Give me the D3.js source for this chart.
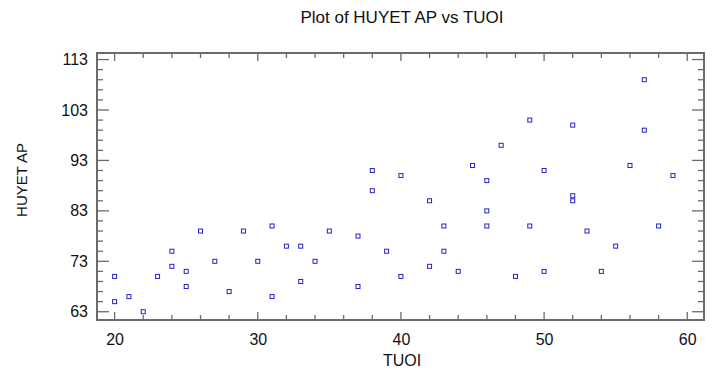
<!DOCTYPE html>
<html><head><meta charset="utf-8">
<script src="https://cdn.jsdelivr.net/npm/d3@7"></script>
<style>body{margin:0;background:#fff}svg{display:block}text{font-family:"Liberation Sans",Arial,sans-serif;fill:#111}</style>
</head><body><svg id="c" width="725" height="373"></svg>
<script>
const tuoi = [20,20,21,22,23,24,24,25,25,26,27,28,29,30,31,31,32,33,33,34,35,37,37,38,38,39,
  40,40,42,42,43,43,44,45,46,46,46,47,48,49,49,50,50,52,52,52,53,54,55,56,57,57,58,59];
const huyetAp = [70,65,66,63,70,75,72,71,68,79,73,67,79,73,80,66,76,76,69,73,79,78,68,91,87,75,
  90,70,85,72,80,75,71,92,89,83,80,96,70,101,80,91,71,100,86,85,79,71,76,92,109,99,80,90];
const xTicks = [20,30,40,50,60];
const yTicks = [63,73,83,93,103,113];
const title = "Plot of HUYET AP vs TUOI", xLabel = "TUOI", yLabel = "HUYET AP";

const svg = d3.select("#c");
const L = 97, R = 704, T = 53, B = 320;
const x = d3.scaleLinear().domain([18.77, 61.17]).range([L, R]);
const y = d3.scaleLinear().domain([61.36, 114.3]).range([B, T]);
const frame = "#6b6b6b";

const g = svg.append("g").attr("stroke", frame).attr("stroke-width", 1.3);
d3.range(20, 61, 2).forEach(v => {
  const major = v % 10 === 0, len = major ? 8 : 5;
  g.append("line").attr("x1", x(v)).attr("x2", x(v)).attr("y1", B).attr("y2", B - len);
  g.append("line").attr("x1", x(v)).attr("x2", x(v)).attr("y1", T).attr("y2", T + len);
});
d3.range(63, 114, 2).forEach(v => {
  const major = (v - 63) % 10 === 0, len = major ? 12 : 6;
  g.append("line").attr("y1", y(v)).attr("y2", y(v)).attr("x1", L).attr("x2", L + len);
  g.append("line").attr("y1", y(v)).attr("y2", y(v)).attr("x1", R).attr("x2", R - len);
});
svg.append("rect").attr("x", L).attr("y", T).attr("width", R - L).attr("height", B - T)
  .attr("fill", "none").attr("stroke", frame).attr("stroke-width", 2);

const ax = svg.append("g").attr("transform", `translate(0,${B})`)
  .call(d3.axisBottom(x).tickValues(xTicks).tickSize(0).tickPadding(14));
ax.select(".domain").remove();
ax.selectAll("text").attr("font-size", 16).attr("font-family", "Liberation Sans, Arial, sans-serif").attr("fill", "#111");
const ay = svg.append("g").attr("transform", `translate(${L},0)`)
  .call(d3.axisLeft(y).tickValues(yTicks).tickSize(0).tickPadding(9));
ay.select(".domain").remove();
ay.selectAll("text").attr("font-size", 16).attr("font-family", "Liberation Sans, Arial, sans-serif").attr("fill", "#111");

svg.append("g").selectAll("rect").data(tuoi.map((t, i) => [t, huyetAp[i]])).join("rect")
  .attr("x", d => x(d[0]) - 2).attr("y", d => y(d[1]) - 2).attr("width", 4).attr("height", 4)
  .attr("fill", "none").attr("stroke", "#2323c8").attr("stroke-width", 1);

svg.append("text").attr("x", 402).attr("y", 23).attr("text-anchor", "middle").attr("font-size", 17).text(title);
svg.append("text").attr("x", 402).attr("y", 366).attr("text-anchor", "middle").attr("font-size", 16).text(xLabel);
svg.append("text").attr("transform", "translate(27,180) rotate(-90)").attr("text-anchor", "middle").attr("font-size", 15).text(yLabel);
</script></body></html>
